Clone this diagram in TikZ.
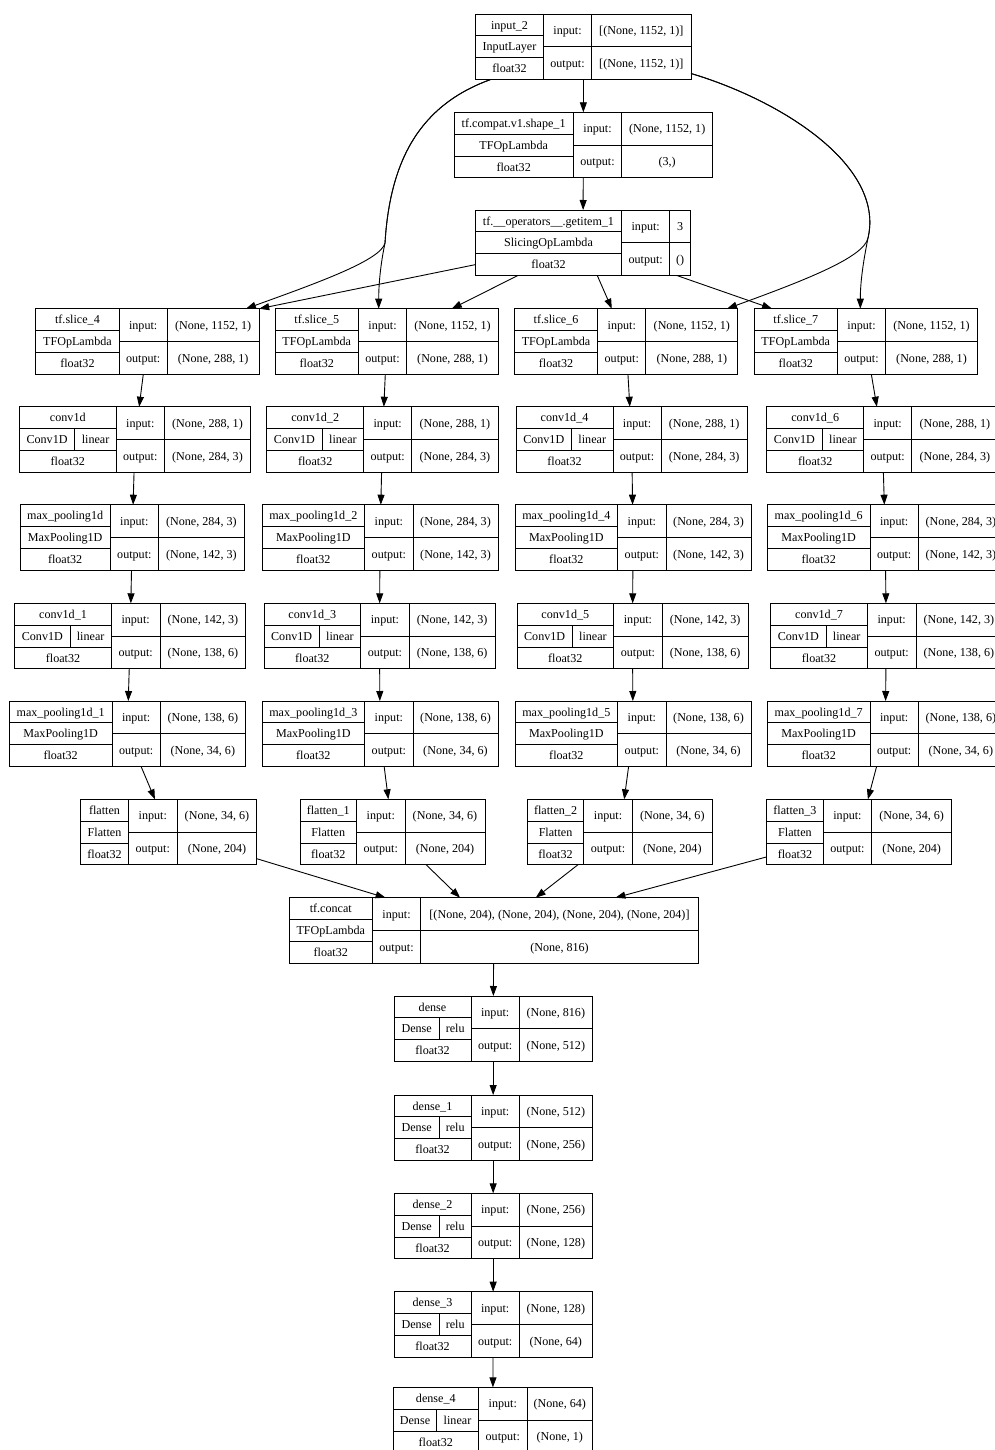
\documentclass[tikz,border=0pt]{standalone}
\usepackage{fontspec}
\setmainfont{Liberation Serif}
\usetikzlibrary{arrows.meta,calc}
\newcommand{\RH}{65.5}
% record node: #1 id, #2 x, #3 y(top), #4 wL, #5 wM, #6 wR, #7 name, #8 class
\newcommand{\recnode}[8]{%
  \pgfmathsetmacro\kx{#2}\pgfmathsetmacro\ky{#3}%
  \pgfmathsetmacro\kxA{#2+#4}\pgfmathsetmacro\kxB{#2+#4+#5}\pgfmathsetmacro\kxC{#2+#4+#5+#6}%
  \pgfmathsetmacro\kw{#4+#5+#6}%
  \pgfmathsetmacro\kyB{#3+\RH}\pgfmathsetmacro\kyM{#3+\RH/2}%
  \pgfmathsetmacro\kyO{#3+\RH/3}\pgfmathsetmacro\kyT{#3+2*\RH/3}%
  \node[recbox, minimum width=\kw pt, minimum height=\RH pt, anchor=north west] (#1) at (\kx,\ky) {};
  \draw[recline] (\kxA,\ky) -- (\kxA,\kyB) (\kxB,\ky) -- (\kxB,\kyB) (\kxA,\kyM) -- (\kxC,\kyM)
     (\kx,\kyO) -- (\kxA,\kyO) (\kx,\kyT) -- (\kxA,\kyT);
  \node[txt] at ({(\kx+\kxA)/2},{\ky+\RH/6}) {#7};
  \node[txt] at ({(\kx+\kxA)/2},{\ky+\RH/2}) {#8};
  \node[txt] at ({(\kx+\kxA)/2},{\ky+5*\RH/6}) {float32};
  \node[txt] at ({(\kxA+\kxB)/2},{\ky+\RH/4}) {input:};
  \node[txt] at ({(\kxA+\kxB)/2},{\ky+3*\RH/4}) {output:};
}
\newcommand{\recio}[2]{%
  \node[txt] at ({(\kxB+\kxC)/2},{\ky+\RH/4}) {#1};
  \node[txt] at ({(\kxB+\kxC)/2},{\ky+3*\RH/4}) {#2};
}
\newcommand{\recact}[3]{%
  \pgfmathsetmacro\ks{\kx+#1}%
  \draw[recline] (\ks,\kyO) -- (\ks,\kyT);
  \node[txt] at ({(\kx+\ks)/2},\kyM) {#2};
  \node[txt] at ({(\ks+\kxA)/2},\kyM) {#3};
}
\begin{document}
\begin{tikzpicture}[x=1pt,y=-1pt,
  recbox/.style={draw=black, line width=0.9pt, inner sep=0pt, outer sep=0pt, rectangle},
  recline/.style={draw=black, line width=0.9pt},
  txt/.style={inner sep=0pt, text height=8pt, text depth=2.6pt, yshift=-1.5pt, font=\fontsize{12.1pt}{14pt}\selectfont},
  arr/.style={draw=black, line width=0.9pt, -{Triangle[length=10pt,width=7pt]}}]
\fill[white] (0,0) rectangle (995,1450);
\useasboundingbox (0,0) rectangle (995,1450);
\clip (0,0) rectangle (995,1450);

% top
\recnode{in2}{475.7}{14}{67.6}{48.4}{99.3}{input\_2}{InputLayer}
\recio{[(None, 1152, 1)]}{[(None, 1152, 1)]}
\recnode{shp}{454}{112.3}{119.3}{48.4}{91}{tf.compat.v1.shape\_1}{TFOpLambda}
\recio{(None, 1152, 1)}{(3,)}
\recnode{gi}{475.3}{210}{146.4}{48}{21}{tf.\_\_operators\_\_.getitem\_1}{SlicingOpLambda}
\recio{3}{()}

% slices
\recnode{s4}{35.7}{308.7}{83.5}{48}{92}{tf.slice\_4}{TFOpLambda}
\recio{(None, 1152, 1)}{(None, 288, 1)}
\recnode{s5}{275}{308.7}{83.5}{48}{92}{tf.slice\_5}{TFOpLambda}
\recio{(None, 1152, 1)}{(None, 288, 1)}
\recnode{s6}{514.3}{308.7}{83.5}{48}{92}{tf.slice\_6}{TFOpLambda}
\recio{(None, 1152, 1)}{(None, 288, 1)}
\recnode{s7}{754}{308.7}{83.5}{48}{92}{tf.slice\_7}{TFOpLambda}
\recio{(None, 1152, 1)}{(None, 288, 1)}

% conv row 1
\recnode{c0}{19.3}{406.7}{97}{48}{86.4}{conv1d}{}
\recact{55.5}{Conv1D}{linear}\recio{(None, 288, 1)}{(None, 284, 3)}
\recnode{c2}{266.7}{406.7}{97}{48}{86.4}{conv1d\_2}{}
\recact{55.5}{Conv1D}{linear}\recio{(None, 288, 1)}{(None, 284, 3)}
\recnode{c4}{516}{406.7}{97}{48}{86.4}{conv1d\_4}{}
\recact{55.5}{Conv1D}{linear}\recio{(None, 288, 1)}{(None, 284, 3)}
\recnode{c6}{766.7}{406.7}{97}{48}{86.4}{conv1d\_6}{}
\recact{55.5}{Conv1D}{linear}\recio{(None, 288, 1)}{(None, 284, 3)}

% maxpool row 1
\recnode{m0}{20.3}{504.7}{89.7}{48.7}{85.3}{max\_pooling1d}{MaxPooling1D}
\recio{(None, 284, 3)}{(None, 142, 3)}
\recnode{m2}{262}{504.7}{102.7}{48.3}{85}{max\_pooling1d\_2}{MaxPooling1D}
\recio{(None, 284, 3)}{(None, 142, 3)}
\recnode{m4}{515}{504.7}{102.7}{48.3}{85}{max\_pooling1d\_4}{MaxPooling1D}
\recio{(None, 284, 3)}{(None, 142, 3)}
\recnode{m6}{767.3}{504.7}{102.7}{48.3}{85}{max\_pooling1d\_6}{MaxPooling1D}
\recio{(None, 284, 3)}{(None, 142, 3)}

% conv row 2
\recnode{c1}{14.7}{603.3}{96.6}{48.7}{85.7}{conv1d\_1}{}
\recact{55.3}{Conv1D}{linear}\recio{(None, 142, 3)}{(None, 138, 6)}
\recnode{c3}{264}{603.3}{96.6}{48.7}{85.7}{conv1d\_3}{}
\recact{55.3}{Conv1D}{linear}\recio{(None, 142, 3)}{(None, 138, 6)}
\recnode{c5}{517}{603.3}{96.6}{48.7}{85.7}{conv1d\_5}{}
\recact{55.3}{Conv1D}{linear}\recio{(None, 142, 3)}{(None, 138, 6)}
\recnode{c7}{770.7}{603.3}{96.6}{48.7}{85.7}{conv1d\_7}{}
\recact{55.3}{Conv1D}{linear}\recio{(None, 142, 3)}{(None, 138, 6)}

% maxpool row 2
\recnode{m1}{9.3}{701}{102.7}{48.3}{85}{max\_pooling1d\_1}{MaxPooling1D}
\recio{(None, 138, 6)}{(None, 34, 6)}
\recnode{m3}{262}{701}{102.7}{48.3}{85}{max\_pooling1d\_3}{MaxPooling1D}
\recio{(None, 138, 6)}{(None, 34, 6)}
\recnode{m5}{515}{701}{102.7}{48.3}{85}{max\_pooling1d\_5}{MaxPooling1D}
\recio{(None, 138, 6)}{(None, 34, 6)}
\recnode{m7}{767.3}{701}{102.7}{48.3}{85}{max\_pooling1d\_7}{MaxPooling1D}
\recio{(None, 138, 6)}{(None, 34, 6)}

% flatten
\recnode{f0}{80.7}{799.3}{47.6}{49}{79.4}{flatten}{Flatten}
\recio{(None, 34, 6)}{(None, 204)}
\recnode{f1}{300}{799.3}{56.5}{48.5}{80}{flatten\_1}{Flatten}
\recio{(None, 34, 6)}{(None, 204)}
\recnode{f2}{527.3}{799.3}{56.5}{48.5}{80}{flatten\_2}{Flatten}
\recio{(None, 34, 6)}{(None, 204)}
\recnode{f3}{766.7}{799.3}{56.5}{48.5}{80}{flatten\_3}{Flatten}
\recio{(None, 34, 6)}{(None, 204)}

% concat
\recnode{cc}{289.3}{897.7}{83}{48.4}{277.6}{tf.concat}{TFOpLambda}
\recio{[(None, 204), (None, 204), (None, 204), (None, 204)]}{(None, 816)}

% dense
\recnode{d0}{394}{996}{77}{48.3}{73}{dense}{}
\recact{45.3}{Dense}{relu}\recio{(None, 816)}{(None, 512)}
\recnode{d1}{394}{1095}{77}{48.3}{73}{dense\_1}{}
\recact{45.3}{Dense}{relu}\recio{(None, 512)}{(None, 256)}
\recnode{d2}{394}{1193.3}{77}{48.3}{73}{dense\_2}{}
\recact{45.3}{Dense}{relu}\recio{(None, 256)}{(None, 128)}
\recnode{d3}{394}{1291.7}{77}{48.3}{73}{dense\_3}{}
\recact{45.3}{Dense}{relu}\recio{(None, 128)}{(None, 64)}
\recnode{d4}{393.3}{1387.3}{85}{49}{65}{dense\_4}{}
\recact{43.4}{Dense}{linear}\recio{(None, 64)}{(None, 1)}

% edges: top
\draw[arr] (in2) -- (shp);
\draw[arr] (shp) -- (gi);
\coordinate (inL) at ($(in2.south west)+(15,0)$);
\coordinate (inR) at ($(in2.south east)+(0,-6)$);
\coordinate (sL) at (385,243);
\coordinate (sR) at (868,238);
\coordinate (t4) at ($(s4.north east)+(-13.3,0)$);
\coordinate (t5) at ($(s5.north west)+(103.7,0)$);
\coordinate (t6) at ($(s6.north east)+(-10.8,0)$);
\coordinate (t7) at ($(s7.north west)+(106.3,0)$);
\draw[arr] (inL) .. controls (420,105) and (390,160) .. (sL) .. controls (381,260) and (320,282) .. (t4);
\draw[arr] (inL) .. controls (420,105) and (390,160) .. (sL) .. controls (381,262) and (378.7,282) .. (t5);
\draw[arr] (inR) .. controls (780,100) and (885,165) .. (sR) .. controls (864,258) and (800,282) .. (t6);
\draw[arr] (inR) .. controls (780,100) and (885,165) .. (sR) .. controls (864,258) and (860.3,280) .. (t7);
\draw[arr] (gi) -- (s4.north east);
\draw[arr] (gi) -- (s5);
\draw[arr] (gi) -- (s6);
\draw[arr] (gi) -- (s7);

% columns
\draw[arr] (s4) -- (c0); \draw[arr] (c0) -- (m0); \draw[arr] (m0) -- (c1); \draw[arr] (c1) -- (m1); \draw[arr] (m1) -- (f0);
\draw[arr] (s5) -- (c2); \draw[arr] (c2) -- (m2); \draw[arr] (m2) -- (c3); \draw[arr] (c3) -- (m3); \draw[arr] (m3) -- (f1);
\draw[arr] (s6) -- (c4); \draw[arr] (c4) -- (m4); \draw[arr] (m4) -- (c5); \draw[arr] (c5) -- (m5); \draw[arr] (m5) -- (f2);
\draw[arr] (s7) -- (c6); \draw[arr] (c6) -- (m6); \draw[arr] (m6) -- (c7); \draw[arr] (c7) -- (m7); \draw[arr] (m7) -- (f3);

% to concat and dense chain
\draw[arr] (f0) -- (cc); \draw[arr] (f1) -- (cc); \draw[arr] (f2) -- (cc); \draw[arr] (f3) -- (cc);
\draw[arr] (cc) -- (d0); \draw[arr] (d0) -- (d1); \draw[arr] (d1) -- (d2); \draw[arr] (d2) -- (d3); \draw[arr] (d3) -- (d4);
\end{tikzpicture}
\end{document}
